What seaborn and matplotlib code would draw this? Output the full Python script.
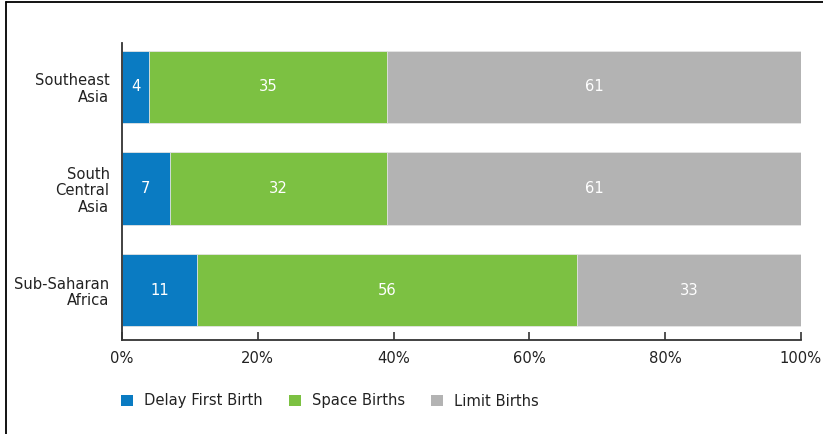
import matplotlib
matplotlib.use("Agg")
import matplotlib.pyplot as plt
from matplotlib.lines import Line2D
from matplotlib.patches import Patch
import seaborn as sns
import pandas as pd
import numpy as np

regions = ["Southeast\nAsia", "South\nCentral\nAsia", "Sub-Saharan\nAfrica"]
delay_first = [4, 7, 11]
space_births = [35, 32, 56]
limit_births = [61, 61, 33]

series_names = ["Delay First Birth", "Space Births", "Limit Births"]
colors = ["#0a7bc2", "#7cc142", "#b3b3b3"]

sns.set_theme(style="white")
plt.rcParams["font.family"] = ["DejaVu Sans"]

FS = 10.6

fig = plt.figure(figsize=(8.23, 4.34), dpi=100)
ax = fig.add_axes([122 / 823, 1 - 340 / 434, (801 - 122) / 823, (340 - 43) / 434])

values = np.array([delay_first, space_births, limit_births], dtype=float)
cum = values.cumsum(axis=0)

# stacked bars: draw cumulative totals from the outermost segment inward
for i in range(len(series_names) - 1, -1, -1):
    df = pd.DataFrame({"region": regions, "total": cum[i]})
    sns.barplot(data=df, x="total", y="region", orient="h", color=colors[i],
                width=0.71, saturation=1, edgecolor="#e6e6e6", linewidth=0.6, ax=ax)

for i in range(len(series_names)):
    for j in range(len(regions)):
        centre = cum[i][j] - values[i][j] / 2
        ax.text(centre, j, f"{int(values[i][j])}", ha="center", va="center",
                color="white", fontsize=FS)

ax.set_xlim(0, 100)
ax.set_ylim(2.49, -0.43)
ax.set_xticks([0, 20, 40, 60, 80, 100])
ax.set_xticklabels([f"{t}%" for t in [0, 20, 40, 60, 80, 100]])
ax.set_xlabel("")
ax.set_ylabel("")
ax.tick_params(axis="x", direction="in", length=6, width=1.2, color="#333333",
               labelsize=FS, pad=8, labelcolor="#222222", bottom=True)
ax.tick_params(axis="y", length=0, labelsize=FS, pad=9, labelcolor="#222222")
for lab in ax.get_yticklabels():
    lab.set_multialignment("right")
    lab.set_linespacing(1.12)

for side in ["top", "right"]:
    ax.spines[side].set_visible(False)
for side in ["left", "bottom"]:
    ax.spines[side].set_color("#333333")
    ax.spines[side].set_linewidth(1.3)

handles = [Patch(facecolor=c, edgecolor="none") for c in colors]
fig.legend(handles, series_names, loc="center left",
           bbox_to_anchor=(121 / 823, 1 - 401 / 434), ncol=3, frameon=False,
           fontsize=FS, handlelength=0.8, handleheight=0.8, handletextpad=0.75,
           columnspacing=1.8, borderpad=0, borderaxespad=0, labelcolor="#222222")

# outer frame lines along the top and left edge
fig.add_artist(Line2D([6 / 823, 6 / 823], [0, 1 - 2 / 434], transform=fig.transFigure,
                      color="black", linewidth=1.3))
fig.add_artist(Line2D([6 / 823, 1], [1 - 2 / 434, 1 - 2 / 434], transform=fig.transFigure,
                      color="black", linewidth=1.3))

fig.savefig("out.png", dpi=100)
